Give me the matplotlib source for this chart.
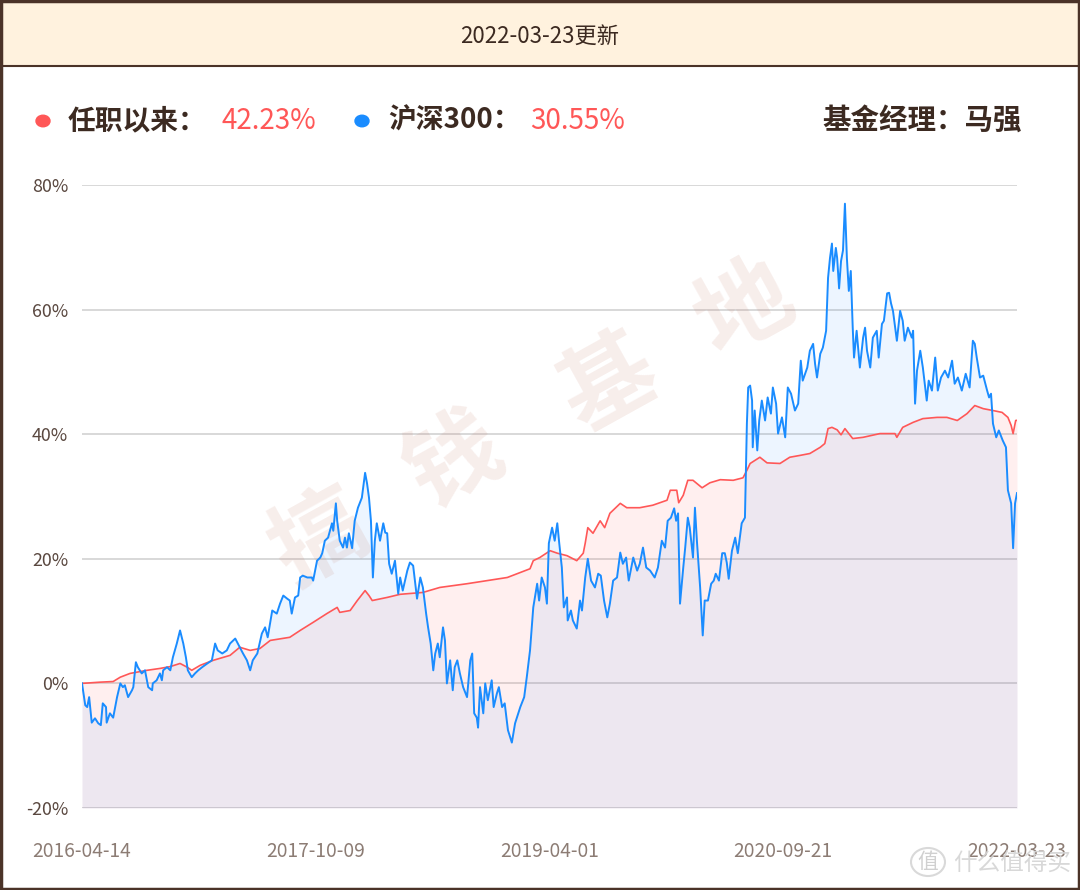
#!/usr/bin/env python3
import matplotlib
matplotlib.use('Agg')
import matplotlib.pyplot as plt
from matplotlib.patches import Rectangle, Circle

plt.rcParams['font.family'] = ['Noto Sans CJK SC', 'DejaVu Sans']

# trading-day index (0 = 2016-04-14, 1440 = 2022-03-23) and cumulative return in %
tick_pos = [0, 360, 720, 1080, 1440]
tick_labels = ['2016-04-14', '2017-10-09', '2019-04-01', '2020-09-21', '2022-03-23']

fund_x = [0, 28, 48, 59, 74, 100, 120, 136, 151, 162, 169, 182, 202, 228, 243, 259, 274, 290,
          320, 336, 356, 377, 393, 397, 413, 424, 436, 442, 447, 470, 490, 525, 551, 593, 624,
          655, 675, 690, 695, 705, 721, 732, 747, 762, 772, 775, 779, 787, 798, 805, 813, 829,
          839, 859, 879, 901, 906, 916, 919, 926, 933, 941, 955, 967, 983, 1003, 1018, 1024,
          1029, 1044, 1055, 1075, 1090, 1106, 1121, 1137, 1144, 1149, 1155, 1163, 1169, 1175,
          1187, 1203, 1229, 1252, 1255, 1264, 1280, 1295, 1317, 1332, 1348, 1363, 1375, 1388,
          1403, 1417, 1426, 1431, 1434, 1438, 1440]
fund_y = [0.0, 0.2, 0.3, 1.0, 1.6, 2.1, 2.4, 2.7, 3.2, 2.6, 2.1, 2.9, 3.7, 4.5, 5.8, 5.3, 5.6, 6.9,
          7.4, 8.5, 9.8, 11.2, 12.2, 11.4, 11.7, 13.3, 14.9, 14.1, 13.3, 13.8, 14.3, 14.6, 15.4,
          16.0, 16.5, 17.0, 17.8, 18.4, 19.7, 20.2, 21.3, 20.9, 20.5, 19.7, 20.9, 22.5, 25.0,
          24.1, 26.1, 25.0, 27.3, 28.9, 28.2, 28.2, 28.6, 29.4, 31.0, 31.0, 29.0, 30.2, 32.6,
          32.6, 31.4, 32.2, 32.7, 32.6, 33.0, 34.2, 35.3, 36.3, 35.4, 35.3, 36.3, 36.6, 36.9,
          37.9, 38.5, 40.9, 41.1, 40.7, 39.9, 40.9, 39.3, 39.5, 40.1, 40.1, 39.5, 41.1, 41.9,
          42.5, 42.7, 42.7, 42.2, 43.3, 44.6, 44.1, 43.8, 43.5, 42.7, 41.4, 40.1, 42.2, 42.23]

hs300_x = [0, 5, 8, 11, 15, 20, 25, 29, 32, 37, 38, 43, 48, 54, 59, 63, 66, 71, 77, 79, 83, 86,
           92, 97, 102, 108, 109, 115, 120, 123, 125, 131, 136, 140, 146, 151, 156, 160, 163,
           169, 174, 179, 185, 193, 200, 205, 209, 216, 223, 228, 236, 240, 243, 248, 254, 259,
           263, 270, 277, 282, 286, 293, 300, 305, 310, 316, 320, 323, 328, 333, 336, 340, 347,
           354, 356, 362, 367, 370, 374, 379, 385, 387, 391, 393, 397, 402, 405, 408, 411, 416,
           420, 425, 431, 436, 439, 442, 445, 448, 451, 454, 459, 464, 467, 470, 473, 477, 482,
           487, 490, 494, 501, 505, 510, 516, 521, 525, 530, 533, 537, 541, 544, 548, 551, 556,
           559, 562, 567, 571, 574, 578, 582, 587, 593, 598, 601, 604, 608, 610, 613, 618, 621,
           625, 631, 634, 639, 642, 647, 651, 656, 662, 667, 675, 681, 685, 690, 695, 701, 704,
           708, 713, 716, 719, 724, 728, 732, 735, 739, 742, 747, 748, 753, 756, 762, 767, 770,
           775, 779, 784, 790, 795, 799, 804, 809, 813, 818, 824, 829, 833, 838, 842, 849, 855,
           859, 864, 869, 875, 882, 887, 893, 898, 902, 907, 912, 915, 918, 921, 926, 929, 933,
           936, 941, 944, 947, 952, 956, 959, 964, 969, 973, 976, 981, 986, 990, 993, 996, 1001,
           1006, 1010, 1016, 1021, 1024, 1026, 1029, 1032, 1033, 1036, 1040, 1043, 1047, 1052,
           1056, 1061, 1064, 1069, 1072, 1078, 1083, 1087, 1092, 1098, 1103, 1107, 1110, 1117,
           1121, 1126, 1129, 1132, 1137, 1141, 1146, 1149, 1152, 1155, 1157, 1161, 1163, 1166,
           1169, 1172, 1175, 1178, 1181, 1184, 1187, 1189, 1193, 1198, 1203, 1206, 1209, 1214,
           1218, 1224, 1227, 1232, 1235, 1240, 1243, 1246, 1249, 1255, 1260, 1264, 1267, 1272,
           1278, 1280, 1283, 1286, 1291, 1295, 1301, 1304, 1309, 1314, 1318, 1323, 1329, 1334,
           1340, 1344, 1349, 1355, 1361, 1367, 1372, 1375, 1378, 1383, 1388, 1394, 1397, 1400,
           1403, 1408, 1412, 1418, 1423, 1426, 1431, 1434, 1437, 1440]
hs300_y = [0.0, -3.5, -3.8, -2.2, -6.3, -5.6, -6.4, -6.7, -3.2, -3.8, -6.3, -4.8, -5.5, -2.2, 0.0,
           -0.6, -0.3, -2.2, -1.1, -0.6, 3.4, 2.6, 1.6, 2.1, -0.6, -1.1, 0.0, 0.5, 1.6, 0.5, 2.1,
           2.6, 2.1, 4.2, 6.4, 8.5, 6.4, 4.2, 2.1, 1.0, 1.6, 2.1, 2.6, 3.2, 3.7, 6.4, 5.3, 4.8,
           5.3, 6.4, 7.2, 6.4, 5.8, 4.8, 3.7, 2.1, 3.7, 4.8, 8.0, 9.0, 7.4, 11.7, 11.2, 12.8,
           14.1, 13.6, 13.3, 11.2, 13.8, 14.1, 17.0, 17.3, 17.0, 17.0, 16.5, 19.7, 20.2, 20.9,
           22.9, 23.4, 25.7, 24.5, 28.9, 26.1, 22.9, 21.8, 23.4, 21.8, 24.1, 21.7, 26.1, 28.2,
           29.8, 33.8, 32.1, 29.8, 26.1, 17.0, 22.9, 25.7, 22.9, 25.7, 24.2, 24.1, 19.2, 17.6,
           19.7, 14.4, 17.0, 14.9, 18.1, 19.4, 18.9, 13.6, 17.0, 15.4, 11.2, 9.0, 6.4, 2.1, 4.8,
           6.4, 4.2, 9.0, 6.9, 0.0, 3.7, -1.1, 2.6, 3.7, 1.6, -0.6, -2.2, 3.7, 4.8, -4.8, -5.5,
           -7.1, -0.6, -4.8, 0.0, -2.7, 0.5, -3.8, -1.6, -0.6, -3.8, -3.2, -7.5, -9.5, -6.4,
           -3.8, -2.2, 1.0, 5.3, 12.2, 16.0, 13.3, 17.0, 15.4, 12.8, 22.5, 25.0, 22.9, 25.7,
           22.5, 18.6, 12.2, 13.8, 10.1, 11.7, 10.1, 8.8, 13.3, 11.7, 17.0, 20.0, 16.5, 15.4,
           17.6, 17.3, 13.3, 10.6, 12.8, 16.5, 17.0, 21.0, 19.2, 20.2, 16.5, 20.2, 18.1, 19.2,
           21.8, 18.6, 18.1, 17.0, 18.6, 22.9, 21.8, 26.1, 26.6, 28.1, 26.1, 27.3, 12.8, 18.6,
           21.8, 26.6, 25.0, 20.2, 28.2, 22.9, 15.4, 7.7, 13.3, 13.3, 16.0, 16.5, 17.6, 16.5,
           20.9, 20.9, 19.4, 16.8, 21.3, 23.4, 20.9, 25.7, 26.6, 41.7, 47.5, 47.8, 45.4, 37.9,
           43.8, 37.4, 42.2, 45.4, 42.2, 45.9, 43.3, 47.5, 44.9, 40.1, 42.7, 39.5, 47.5, 46.5,
           43.8, 44.9, 51.8, 48.6, 50.7, 53.4, 54.5, 51.3, 49.1, 52.9, 53.9, 56.6, 65.1, 68.3,
           70.6, 66.2, 69.9, 68.3, 63.4, 67.8, 69.5, 77.0, 68.3, 63.0, 66.2, 57.1, 52.3, 56.6,
           50.7, 55.5, 57.1, 53.4, 50.7, 55.5, 56.6, 52.3, 57.7, 58.2, 62.6, 62.7, 61.0, 59.8,
           55.0, 59.8, 58.2, 55.0, 57.1, 55.5, 56.6, 44.9, 50.2, 53.4, 50.7, 45.4, 48.6, 47.0,
           52.3, 47.0, 49.1, 50.2, 49.1, 51.8, 48.1, 49.1, 47.0, 49.7, 47.5, 55.0, 54.5, 52.3,
           49.1, 49.4, 47.0, 45.9, 46.5, 41.7, 39.5, 40.6, 39.0, 37.9, 31.0, 28.9, 21.7, 28.9,
           30.55]

RED = '#ff5757'
BLUE = '#1a8cff'
BROWN = '#3c2a21'

fig = plt.figure(figsize=(10.8, 8.9), dpi=100)

# header band and frame
fig.patches.append(Rectangle((0, 1 - 66 / 890), 1, 66 / 890, transform=fig.transFigure,
                             facecolor='#fff2de', edgecolor='none', zorder=0))
fig.add_artist(plt.Line2D([0, 1], [1 - 66 / 890] * 2, color='#4b3328', lw=1.5))
fig.patches.append(Rectangle((0.001, 0.001), 0.998, 0.998, transform=fig.transFigure,
                             facecolor='none', edgecolor='#4b3328', lw=2.5, zorder=10))
fig.text(0.5, 1 - 36 / 890, '2022-03-23更新', ha='center', va='center', fontsize=16,
         color=BROWN)

# legend row
ly = 1 - 121 / 890
fig.add_artist(Circle((43 / 1080, ly), 7 / 1080, transform=fig.transFigure, color=RED))
fig.text(68 / 1080, ly, '任职以来：', ha='left', va='center', fontsize=20,
         fontweight='bold', color=BROWN)
fig.text(222 / 1080, ly, f'{fund_y[-1]:.2f}%', ha='left', va='center', fontsize=20, color=RED)
fig.add_artist(Circle((362 / 1080, ly), 7 / 1080, transform=fig.transFigure, color=BLUE))
fig.text(388 / 1080, ly, '沪深300：', ha='left', va='center', fontsize=20,
         fontweight='bold', color=BROWN)
fig.text(530 / 1080, ly, f'{hs300_y[-1]:.2f}%', ha='left', va='center', fontsize=20, color=RED)
fig.text(1022 / 1080, ly, '基金经理：马强', ha='right', va='center', fontsize=20.5,
         fontweight='bold', color=BROWN)

ax = fig.add_axes([82 / 1080, 1 - 808 / 890, 935 / 1080, 623 / 890])
ax.set_xlim(0, 1440)
ax.set_ylim(-20, 80)
ax.fill_between(fund_x, fund_y, -20, color=RED, alpha=0.09, lw=0, zorder=1)
ax.fill_between(hs300_x, hs300_y, -20, color=BLUE, alpha=0.08, lw=0, zorder=1.1)
ax.plot(fund_x, fund_y, color=RED, lw=1.2, zorder=3)
ax.plot(hs300_x, hs300_y, color=BLUE, lw=1.4, zorder=4)

ax.set_yticks([-20, 0, 20, 40, 60, 80])
ax.set_yticklabels([f'{v}%' for v in [-20, 0, 20, 40, 60, 80]])
ax.set_xticks(tick_pos)
ax.set_xticklabels(tick_labels)
ax.tick_params(axis='y', length=0, pad=10, labelsize=12.8, labelcolor='#5a4840')
ax.tick_params(axis='x', length=0, pad=24, labelsize=13.8, labelcolor='#8c7c74')
ax.yaxis.grid(True, color='#d6d6d6', lw=1.3, zorder=0)
ax.set_axisbelow(True)
for s in ax.spines.values():
    s.set_visible(False)

# watermark
wm = [('搞', 320, 540), ('钱', 455, 462), ('基', 610, 385), ('地', 745, 310)]
for ch, px, py in wm:
    ax.text(px / 1080, 1 - py / 890, ch, transform=fig.transFigure, rotation=29,
            ha='center', va='center', fontsize=68, fontweight='bold', color='#c0705a',
            alpha=0.12, zorder=2)

# site logo
fig.add_artist(Circle((928 / 1080, 1 - 862 / 890), 17 / 1080, transform=fig.transFigure,
                      facecolor='none', edgecolor='#d9d9d9', lw=1.5, zorder=11))
fig.text(928 / 1080, 1 - 862 / 890, '值', ha='center', va='center', fontsize=15,
         color='#d0d0d0', zorder=11)
fig.text(1012 / 1080, 1 - 864 / 890, '什么值得买', ha='center', va='center', fontsize=17,
         color='#d4d4d4', alpha=0.9, zorder=11)

fig.savefig('out.png', dpi=100)
